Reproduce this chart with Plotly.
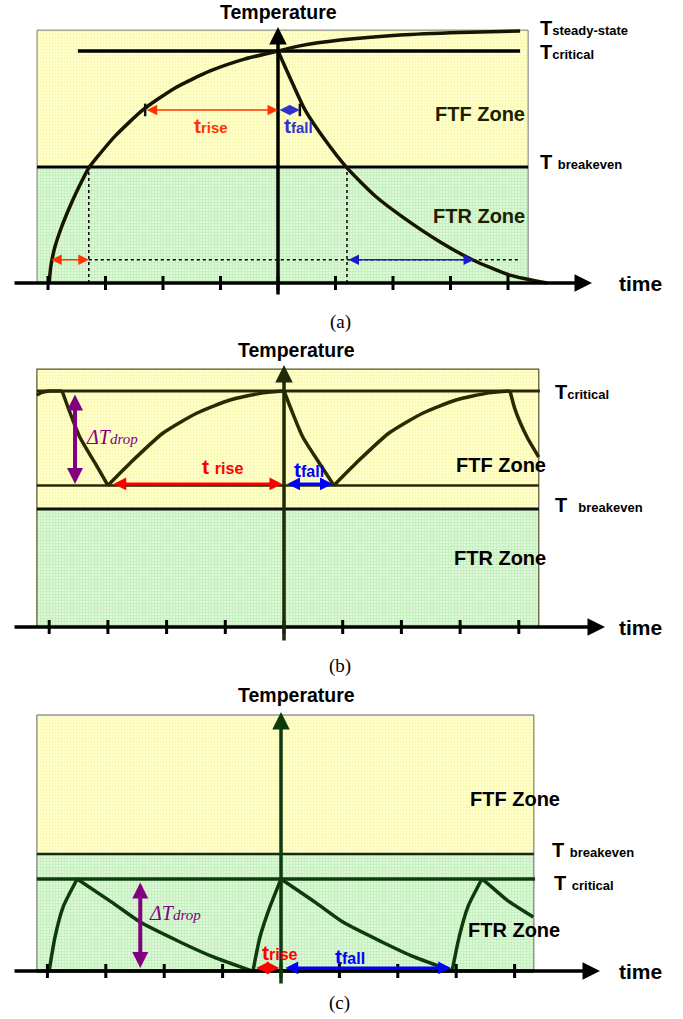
import plotly.graph_objects as go

# ------------------------------------------------------------------
# DATA  (time in tick units, temperature in arbitrary units)
# ------------------------------------------------------------------
TICKS = [-4, -3, -2, -1, 0, 1, 2, 3, 4]

# ---- panel (a) : continuous operation ----
A_ZONE_T = [-4.19, 4.35]
A_ZONE_TOP = 10.9
A_BREAKEVEN = 5.0
A_CRITICAL = 10.0
A_CRIT_T = [-3.48, 4.21]
A_RISE_T = [-3.98, -3.95, -3.88, -3.77, -3.63, -3.48, -3.29, -3.10, -2.83, -2.35, -1.79, -1.18, -0.57,
            0.0, 0.38, 1.08, 2.12, 3.17, 4.21]
A_RISE_Y = [0.0, 0.73, 1.55, 2.37, 3.23, 4.05, 4.96, 5.56, 6.34, 7.46, 8.41, 9.14, 9.66,
            10.0, 10.22, 10.47, 10.69, 10.80, 10.86]
A_FALL_T = [0.0, 0.21, 0.47, 0.82, 1.20, 1.69, 2.17, 2.82, 3.39, 4.03, 4.68]
A_FALL_Y = [10.0, 8.84, 7.46, 6.16, 4.96, 3.75, 2.84, 1.77, 0.99, 0.34, 0.0]
A_CROSS_T = [-3.29, 1.20]
A_GUIDE_Y = 1.0
A_GUIDE_T = [-3.29, 4.21]
A_ARROW_Y = 7.46
A_TRISE_T = [-2.31, 0.0]
A_TFALL_T = [0.0, 0.38]
A_LOW_RISE_T = [-3.97, -3.29]
A_LOW_FALL_T = [1.20, 3.41]

# ---- panel (b) : cycling inside the FTF zone ----
B_ZONE_T = [-4.21, 4.34]
B_ZONE_TOP = 10.93
B_BREAKEVEN = 5.0
B_CRITICAL = 10.0
B_MIN = 6.0
B_SEG_T = [
    [-4.21, -4.12, -3.99, -3.78],
    [-3.78, -3.65, -3.48, -3.22, -3.00],
    [-3.00, -2.62, -2.06, -1.48, -0.92, -0.36, 0.0],
    [0.0, 0.14, 0.32, 0.60, 0.85],
    [0.85, 1.23, 1.79, 2.37, 2.93, 3.49, 3.85],
    [3.85, 3.94, 4.14, 4.34],
]
B_SEG_Y = [
    [9.83, 9.94, 10.0, 10.0],
    [10.0, 9.11, 8.05, 6.95, 6.0],
    [6.0, 6.95, 8.22, 9.07, 9.62, 9.92, 10.0],
    [10.0, 9.11, 8.05, 6.95, 6.0],
    [6.0, 6.95, 8.22, 9.07, 9.62, 9.92, 10.0],
    [10.0, 9.19, 8.05, 7.20],
]
B_DROP_T = -3.56
B_DROP_Y = [9.92, 6.06]
B_ARROW_Y = 6.06
B_TRISE_T = [-2.93, -0.03]
B_TFALL_T = [0.03, 0.83]

# ---- panel (c) : cycling inside the FTR zone ----
C_ZONE_T = [-4.18, 4.33]
C_ZONE_TOP = 10.94
C_BREAKEVEN = 5.0
C_CRITICAL = 3.93
C_SEG_T = [
    [-3.97, -3.87, -3.73, -3.49],
    [-3.49, -2.88, -2.41, -1.73, -1.16, -0.50],
    [-0.48, -0.36, -0.19, 0.0],
    [0.0, 0.60, 1.06, 1.73, 2.28, 2.93],
    [2.93, 3.05, 3.20, 3.44],
    [3.44, 3.53, 3.87, 4.32],
]
C_SEG_Y = [
    [0.0, 1.45, 2.74, 3.93],
    [3.93, 2.91, 2.09, 1.24, 0.60, 0.0],
    [0.0, 1.45, 2.74, 3.93],
    [3.93, 2.91, 2.09, 1.24, 0.60, 0.0],
    [0.0, 1.45, 2.74, 3.93],
    [3.93, 3.76, 3.03, 2.31],
]
C_DROP_T = -2.41
C_DROP_Y = [3.85, 0.13]
C_ARROW_Y = 0.13
C_TRISE_T = [-0.45, -0.03]
C_TFALL_T = [0.05, 2.91]

# ------------------------------------------------------------------
# LAYOUT / STYLE
# ------------------------------------------------------------------
W, H = 683, 1019
SANS = "Liberation Sans, Arial, Helvetica, sans-serif"
SERIF = "Liberation Serif, Times New Roman, serif"
YELLOW_BG, YELLOW_FG = "#ffffd0", "#f2f284"
GREEN_BG, GREEN_FG = "#def7d8", "#9be493"

# panel geometry in page pixels: origin x, px per tick, axis y, px per temperature unit, band
PANELS = [
    dict(x0=278, sx=57.5, y0=283, sy=23.2, top=0, bottom=335),
    dict(x0=284, sx=58.7, y0=627, sy=23.6, top=335, bottom=680),
    dict(x0=281, sx=58.4, y0=971, sy=23.4, top=680, bottom=H),
]

fig = go.Figure()
annotations = []


def refs(i):
    s = "" if i == 0 else str(i + 1)
    return "x" + s, "y" + s


def line(i, xs, ys, color="#000", width=3, dash="solid", shape="linear"):
    xr, yr = refs(i)
    fig.add_trace(go.Scatter(x=xs, y=ys, xaxis=xr, yaxis=yr, mode="lines",
                             line=dict(color=color, width=width, dash=dash, shape=shape, smoothing=0.6),
                             hoverinfo="skip", showlegend=False))


def zone(i, t, y0, y1, bg, fg):
    xr, yr = refs(i)
    fig.add_trace(go.Scatter(x=[t[0], t[1], t[1], t[0], t[0]], y=[y0, y0, y1, y1, y0],
                             xaxis=xr, yaxis=yr, mode="lines", fill="toself",
                             fillpattern=dict(shape="+", bgcolor=bg, fgcolor=fg, size=3, solidity=0.4),
                             line=dict(width=0, color=bg), hoverinfo="skip", showlegend=False))


def ticks(i, color="#000"):
    xr, yr = refs(i)
    fig.add_trace(go.Scatter(x=TICKS, y=[0] * len(TICKS), xaxis=xr, yaxis=yr, mode="markers",
                             marker=dict(symbol="line-ns", size=10, line=dict(width=3, color=color)),
                             hoverinfo="skip", showlegend=False))


def arrow(i, x0, y0, x1, y1, color, width, size, double=False):
    xr, yr = refs(i)
    annotations.append(dict(x=x1, y=y1, ax=x0, ay=y0, xref=xr, yref=yr, axref=xr, ayref=yr,
                            text="", showarrow=True, arrowhead=2, arrowsize=size, arrowwidth=width,
                            arrowcolor=color, startarrowhead=2, startarrowsize=size,
                            arrowside="end+start" if double else "end", standoff=0, startstandoff=0))


def label(i, x, y, text, size=20, color="#000", family=SANS, xanchor="left"):
    xr, yr = refs(i)
    annotations.append(dict(x=x, y=y, xref=xr, yref=yr, text=text, showarrow=False,
                            xanchor=xanchor, yanchor="middle",
                            font=dict(family=family, size=size, color=color)))


def tlabel(main, sub, sub_size=13, gap=""):
    return "<b>" + main + gap + "<span style='font-size:%dpx'>%s</span></b>" % (sub_size, sub)


def axes(i, color_h="#000", color_v="#000"):
    p = PANELS[i]
    left = (13 - p["x0"]) / p["sx"]
    tip_x = [(592 - 278) / 57.5, (605 - 284) / 58.7, (600 - 281) / 58.4][i]
    low_y = (p["y0"] - [296, 642, 985][i]) / p["sy"]
    tip_y = (p["y0"] - [27, 365, 712][i]) / p["sy"]
    arrow(i, left, 0, tip_x, 0, color_h, 3.5, 1.0)
    arrow(i, 0, low_y, 0, tip_y, color_v, 3.5, 1.0)


# ================= panel (a) =================
zone(0, A_ZONE_T, A_BREAKEVEN, A_ZONE_TOP, YELLOW_BG, YELLOW_FG)
zone(0, A_ZONE_T, 0, A_BREAKEVEN, GREEN_BG, GREEN_FG)
line(0, [A_ZONE_T[0], A_ZONE_T[1], A_ZONE_T[1], A_ZONE_T[0], A_ZONE_T[0]],
     [0, 0, A_ZONE_TOP, A_ZONE_TOP, 0], color="#777", width=1)
line(0, A_ZONE_T, [A_BREAKEVEN] * 2, width=3)
line(0, A_CRIT_T, [A_CRITICAL] * 2, width=3.5)
for t in A_CROSS_T:
    line(0, [t, t], [0, A_BREAKEVEN], width=1.5, dash="dot")
line(0, A_GUIDE_T, [A_GUIDE_Y] * 2, width=1.5, dash="dot")
line(0, A_RISE_T, A_RISE_Y, color="#161600", width=3.5, shape="spline")
line(0, A_FALL_T, A_FALL_Y, color="#161600", width=3.5, shape="spline")
ticks(0)
fig.add_trace(go.Scatter(x=[A_TRISE_T[0], A_TFALL_T[1]], y=[A_ARROW_Y] * 2, xaxis="x", yaxis="y",
                         mode="markers", marker=dict(symbol="line-ns", size=9, line=dict(width=2.5, color="#111")),
                         hoverinfo="skip", showlegend=False))
axes(0)
arrow(0, A_TRISE_T[0], A_ARROW_Y, A_TRISE_T[1], A_ARROW_Y, "#ff3300", 1.5, 1.4, True)
arrow(0, A_TFALL_T[0], A_ARROW_Y, A_TFALL_T[1], A_ARROW_Y, "#3333cc", 1.5, 1.4, True)
arrow(0, A_LOW_RISE_T[0], A_GUIDE_Y, A_LOW_RISE_T[1], A_GUIDE_Y, "#ff3300", 1.5, 1.4, True)
arrow(0, A_LOW_FALL_T[0], A_GUIDE_Y, A_LOW_FALL_T[1], A_GUIDE_Y, "#1a1acc", 1.5, 1.4, True)

label(0, 0, 11.68, "<b>Temperature</b>", size=19.5, xanchor="center")
label(0, 4.52, 11.0, tlabel("T", "steady-state"))
label(0, 4.52, 9.96, tlabel("T", "critical"))
label(0, 4.52, 5.22, tlabel("T ", "breakeven"))
label(0, 5.90, 0.0, "<b>time</b>", size=21)
label(0, 4.33, 7.28, "<b>FTF Zone</b>", size=20, color="#1e1e00", xanchor="right")
label(0, 4.33, 2.89, "<b>FTR Zone</b>", size=20, color="#1e1e00", xanchor="right")
label(0, -1.50, 6.81, tlabel("t", "rise", 15), size=21, color="#ff3300")
label(0, 0.07, 6.81, tlabel("t", "fall", 15), size=21, color="#3333cc")
label(0, 1.08, -1.68, "(a)", size=19, family=SERIF, xanchor="center")

# ================= panel (b) =================
OLIVE = "#2a2a00"
zone(1, B_ZONE_T, B_BREAKEVEN, B_ZONE_TOP, YELLOW_BG, YELLOW_FG)
zone(1, B_ZONE_T, 0, B_BREAKEVEN, GREEN_BG, GREEN_FG)
line(1, [B_ZONE_T[0], B_ZONE_T[1], B_ZONE_T[1], B_ZONE_T[0], B_ZONE_T[0]],
     [0, 0, B_ZONE_TOP, B_ZONE_TOP, 0], color="#55552a", width=1.2)
line(1, B_ZONE_T, [B_BREAKEVEN] * 2, color="#111", width=3)
line(1, B_ZONE_T, [B_MIN] * 2, color=OLIVE, width=2.5)
line(1, [B_ZONE_T[0], B_ZONE_T[1] + 0.02], [B_CRITICAL] * 2, color=OLIVE, width=3)
for xs, ys in zip(B_SEG_T, B_SEG_Y):
    line(1, xs, ys, color=OLIVE, width=3.5, shape="spline")
ticks(1)
axes(1, "#000", "#1e2a08")
arrow(1, B_DROP_T, B_DROP_Y[0], B_DROP_T, B_DROP_Y[1], "#800080", 4, 0.8, True)
arrow(1, B_TRISE_T[0], B_ARROW_Y, B_TRISE_T[1], B_ARROW_Y, "#ff0000", 3, 0.85, True)
arrow(1, B_TFALL_T[0], B_ARROW_Y, B_TFALL_T[1], B_ARROW_Y, "#0000ff", 3, 0.85, True)

label(1, 0.22, 11.74, "<b>Temperature</b>", size=19.5, xanchor="center")
label(1, 4.58, 9.96, tlabel("T", "critical"))
label(1, 4.58, 5.17, tlabel("T", "breakeven", gap="&nbsp; "))
label(1, 5.67, 0.0, "<b>time</b>", size=21)
label(1, 4.50, 6.86, "<b>FTF Zone</b>", size=20, xanchor="right")
label(1, 4.50, 2.92, "<b>FTR Zone</b>", size=20, xanchor="right")
label(1, -3.40, 8.05, "<i>ΔT<span style='font-size:15px'>drop</span></i>", size=20,
      color="#800080", family=SERIF)
label(1, -1.43, 6.78, tlabel("t", "rise", 16, gap=" "), size=21, color="#ff0000")
label(1, 0.14, 6.69, tlabel("t", "fall", 16), size=21, color="#0000ff")
label(1, 0.95, -1.65, "(b)", size=19, family=SERIF, xanchor="center")

# ================= panel (c) =================
DKGREEN = "#0d3b0d"
zone(2, C_ZONE_T, C_BREAKEVEN, C_ZONE_TOP, YELLOW_BG, YELLOW_FG)
zone(2, C_ZONE_T, 0, C_BREAKEVEN, GREEN_BG, GREEN_FG)
line(2, [C_ZONE_T[0], C_ZONE_T[1], C_ZONE_T[1], C_ZONE_T[0], C_ZONE_T[0]],
     [0, 0, C_ZONE_TOP, C_ZONE_TOP, 0], color="#666", width=1)
line(2, C_ZONE_T, [C_BREAKEVEN] * 2, color="#1a2a1a", width=2.5)
line(2, [C_ZONE_T[0], C_ZONE_T[1] + 0.02], [C_CRITICAL] * 2, color=DKGREEN, width=3.5)
axes(2, "#000", DKGREEN)
line(2, C_ZONE_T, [0, 0], color=DKGREEN, width=3.5)
for xs, ys in zip(C_SEG_T, C_SEG_Y):
    line(2, xs, ys, color=DKGREEN, width=3.5, shape="spline")
ticks(2)
arrow(2, C_DROP_T, C_DROP_Y[0], C_DROP_T, C_DROP_Y[1], "#800080", 4, 0.8, True)
arrow(2, C_TRISE_T[0], C_ARROW_Y, C_TRISE_T[1], C_ARROW_Y, "#ff0000", 3, 0.85, True)
arrow(2, C_TFALL_T[0], C_ARROW_Y, C_TFALL_T[1], C_ARROW_Y, "#0000ff", 3, 0.85, True)

label(2, 0.27, 11.79, "<b>Temperature</b>", size=19.5, xanchor="center")
label(2, 4.61, 5.17, tlabel("T", "breakeven", gap=" "))
label(2, 4.64, 3.76, tlabel("T", "critical", gap=" "))
label(2, 5.75, 0.0, "<b>time</b>", size=21)
label(2, 4.81, 7.35, "<b>FTF Zone</b>", size=20, xanchor="right")
label(2, 4.81, 1.75, "<b>FTR Zone</b>", size=20, xanchor="right")
label(2, -2.29, 2.48, "<i>ΔT<span style='font-size:15px'>drop</span></i>", size=20,
      color="#800080", family=SERIF)
label(2, -0.36, 0.77, tlabel("t", "rise", 16), size=21, color="#ff0000")
label(2, 0.89, 0.64, tlabel("t", "fall", 16), size=21, color="#0000ff")
label(2, 1.01, -1.37, "(c)", size=19, family=SERIF, xanchor="center")

# ------------------------------------------------------------------
layout = dict(width=W, height=H, margin=dict(l=0, r=0, t=0, b=0),
              paper_bgcolor="white", plot_bgcolor="white",
              annotations=annotations, font=dict(family=SANS))
for i, p in enumerate(PANELS):
    s = "" if i == 0 else str(i + 1)
    layout["xaxis" + s] = dict(domain=[0, 1],
                               range=[-p["x0"] / p["sx"], (W - p["x0"]) / p["sx"]],
                               visible=False, fixedrange=True, anchor="y" + s)
    layout["yaxis" + s] = dict(domain=[1 - p["bottom"] / H, 1 - p["top"] / H],
                               range=[(p["y0"] - p["bottom"]) / p["sy"], (p["y0"] - p["top"]) / p["sy"]],
                               visible=False, fixedrange=True, anchor="x" + s)
fig.update_layout(**layout)
fig.write_html("out.html", config={"displayModeBar": False},
               post_script="document.body.style.margin='0';document.body.style.overflow='hidden';")
